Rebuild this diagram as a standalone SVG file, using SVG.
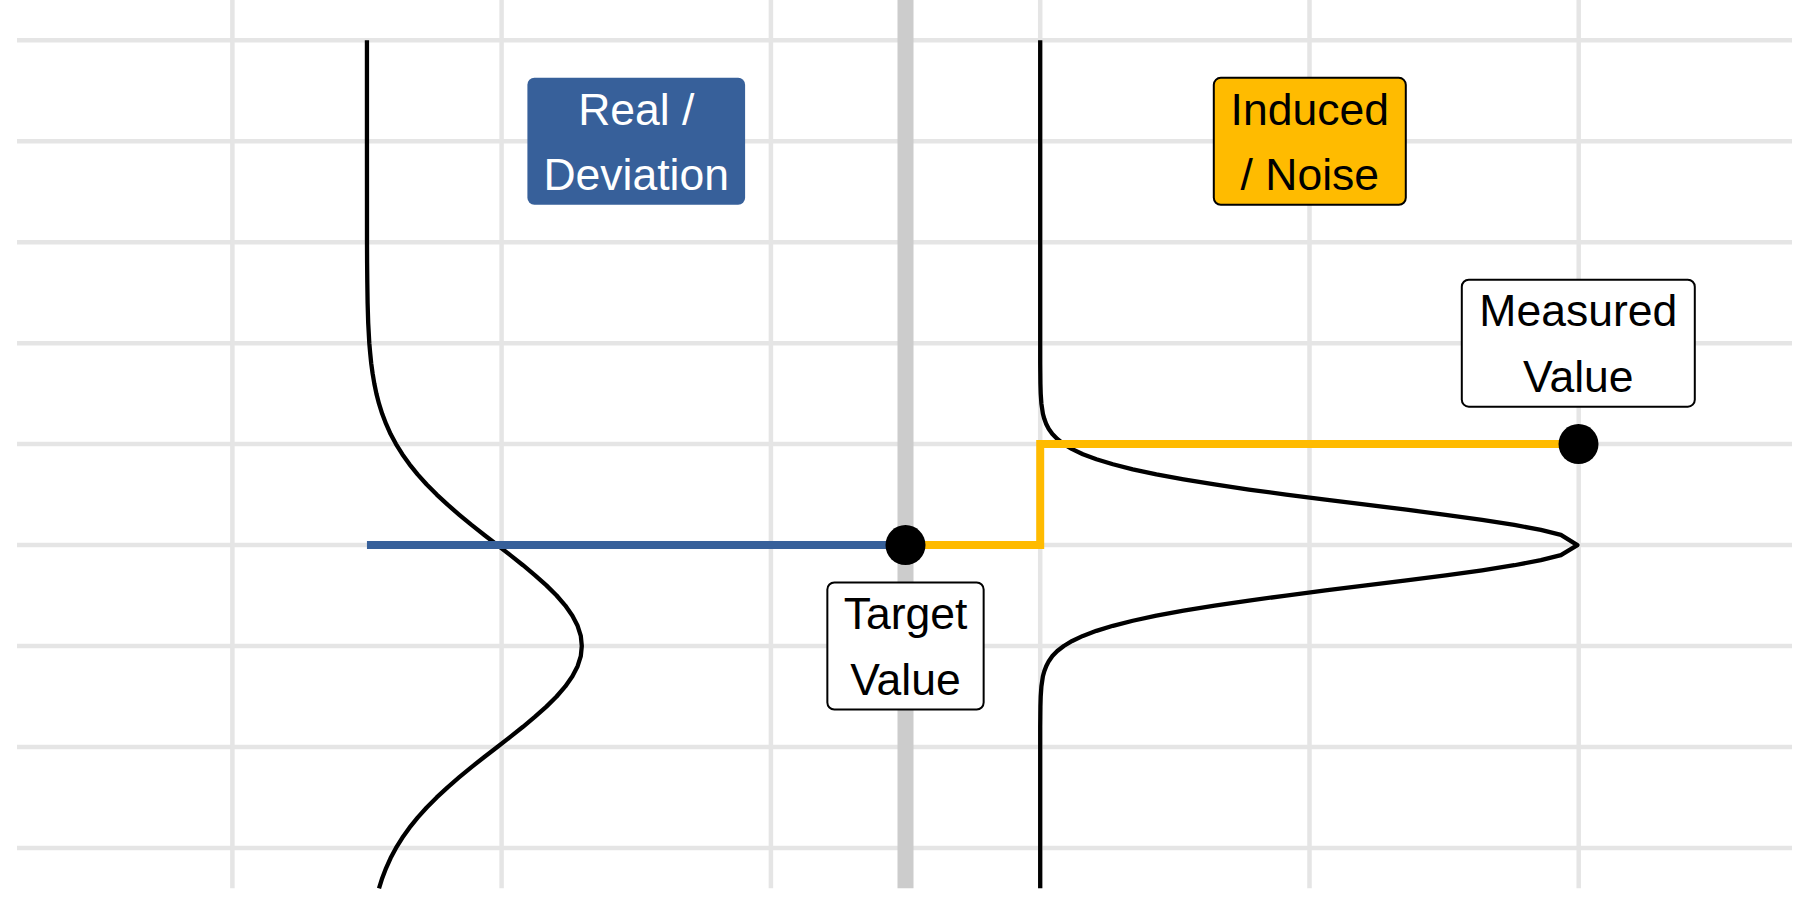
<svg xmlns="http://www.w3.org/2000/svg" width="1800" height="900" viewBox="0 0 1800 900">
<style>
.grid{stroke:#E5E5E5;stroke-width:4.5;fill:none}
.target{stroke:#CCCCCC;stroke-width:16;fill:none}
.curve{stroke:#000;stroke-width:4.3;fill:none;stroke-linejoin:round;stroke-linecap:butt}
.blue{stroke:#37609A;stroke-width:8;fill:none}
.orange{stroke:#FFBB00;stroke-width:8;fill:none;stroke-linejoin:miter}
.dot{fill:#000}
.lbl{font-family:"Liberation Sans",Arial,sans-serif;font-size:44.5px;text-anchor:middle}
.box{stroke:#000;stroke-width:2}
</style>
<rect width="1800" height="900" fill="#FFFFFF"/>
<g id="grid">
<path class="grid" d="M17 40.3H1792M17 141.25H1792M17 242.2H1792M17 343.15H1792M17 444.1H1792M17 545.05H1792M17 646H1792M17 746.95H1792M17 847.9H1792"/>
<path class="grid" d="M232.4 0V888.3M501.6 0V888.3M770.9 0V888.3M1040.2 0V888.3M1309.5 0V888.3M1578.7 0V888.3"/>
<path class="target" d="M905.5 0V888.3"/>
</g>
<g id="curves">
<polyline id="real-density" class="curve" points="366.95,40.3 366.95,141.3 367.0,242.2 367.1,262.4 367.3,282.6 367.6,302.8 368.2,323.0 369.3,343.15 370.2,353.2 371.2,363.3 372.6,373.4 374.3,383.5 376.4,393.6 379.0,403.7 382.2,413.8 386.1,423.9 390.6,434.0 396.0,444.1 402.3,454.2 409.5,464.3 417.6,474.4 426.7,484.5 436.7,494.6 447.6,504.7 459.3,514.8 471.5,524.9 484.3,534.95 497.3,545.05 510.3,555.1 523.0,565.2 535.1,575.3 546.4,585.4 556.6,595.5 565.3,605.6 572.4,615.7 577.6,625.8 580.8,635.9 581.8,646.0 580.8,656.1 577.6,666.2 572.4,676.3 565.3,686.4 556.6,696.5 546.4,706.6 535.1,716.7 523.0,726.8 510.3,736.9 497.3,746.95 484.3,757.0 471.5,767.1 459.3,777.2 447.6,787.3 436.7,797.4 426.7,807.5 417.6,817.6 409.5,827.7 402.3,837.8 396.0,847.9 390.6,858.0 386.1,868.1 382.2,878.2 379.0,888.3"/>
<polyline id="noise-density" class="curve" points="1040.2,40.3 1040.2,363.3 1040.3,373.4 1040.4,383.5 1040.7,393.6 1041.4,403.7 1042.9,413.8 1044.3,418.86 1046.2,423.9 1048.8,428.96 1052.4,434.0 1057.3,439.05 1063.8,444.1 1072.2,449.15 1082.9,454.2 1096.4,459.24 1112.9,464.29 1132.8,469.34 1156.4,474.38 1183.6,479.43 1214.6,484.48 1248.9,489.53 1286.1,494.57 1325.5,499.62 1366.0,504.67 1406.5,509.72 1445.7,514.76 1482.1,519.81 1514.3,524.86 1540.9,529.91 1560.9,534.95 1577.4,545.05 1560.9,555.15 1540.9,560.19 1514.3,565.24 1482.1,570.29 1445.7,575.34 1406.5,580.38 1366.0,585.43 1325.5,590.48 1286.1,595.53 1248.9,600.57 1214.6,605.62 1183.6,610.67 1156.4,615.72 1132.8,620.76 1112.9,625.81 1096.4,630.86 1082.9,635.9 1072.2,640.95 1063.8,646.0 1057.3,651.05 1052.4,656.1 1048.8,661.14 1046.2,666.2 1044.3,671.24 1042.9,676.3 1041.4,686.4 1040.7,696.5 1040.4,706.6 1040.3,716.7 1040.2,726.8 1040.2,888.3"/>
</g>
<g id="connectors">
<path class="blue" d="M366.95 545.05H905.5"/>
<path class="orange" d="M905.5 545.05H1040.2V444.1H1578.5"/>
</g>
<g id="points">
<circle class="dot" cx="905.5" cy="545.05" r="20"/>
<circle class="dot" cx="1578.5" cy="444.1" r="20"/>
</g>
<g id="real-deviation">
<rect x="527.4" y="77.8" width="217.7" height="127" rx="7" fill="#37609A"/>
<text class="lbl" fill="#FFFFFF"><tspan x="636.25" y="124.5">Real /</tspan><tspan x="636.25" y="190.1">Deviation</tspan></text>
</g>
<g id="induced-noise">
<rect class="box" x="1213.8" y="77.8" width="192" height="127" rx="7" fill="#FFBB00"/>
<text class="lbl" fill="#000000"><tspan x="1309.8" y="124.5">Induced</tspan><tspan x="1309.8" y="190.1">/ Noise</tspan></text>
</g>
<g id="measured-value">
<rect class="box" x="1461.8" y="279.65" width="233" height="127" rx="7" fill="#FFFFFF"/>
<text class="lbl" fill="#000000"><tspan x="1578.3" y="326.35">Measured</tspan><tspan x="1578.3" y="391.95">Value</tspan></text>
</g>
<g id="target-value">
<rect class="box" x="827.35" y="582.5" width="156.3" height="127" rx="7" fill="#FFFFFF"/>
<text class="lbl" fill="#000000"><tspan x="905.5" y="629.2">Target</tspan><tspan x="905.5" y="694.8">Value</tspan></text>
</g>
</svg>
